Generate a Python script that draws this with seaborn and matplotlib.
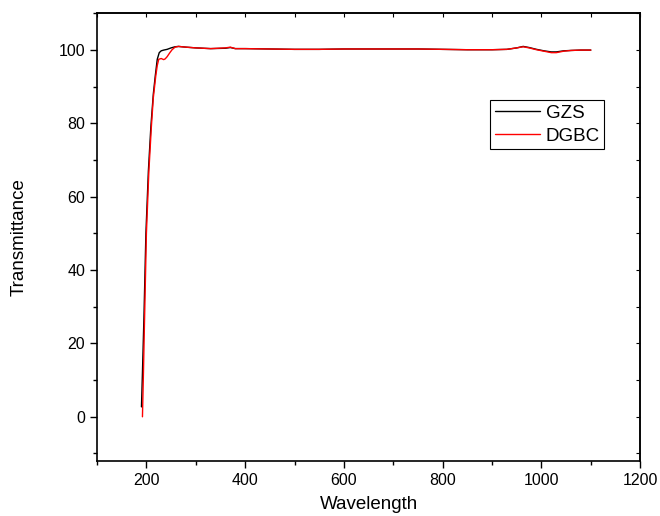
import matplotlib
matplotlib.use('Agg')
import pandas as pd
import matplotlib.pyplot as plt
import seaborn as sns
from matplotlib.ticker import MultipleLocator

# Values
gzs_wavelength = [190, 192, 195, 199, 204, 209, 214, 218, 222, 226, 230, 235, 242, 250, 258,
                  265, 280, 300, 330, 360, 370, 380, 400, 450, 500, 550, 600, 650, 700, 750,
                  800, 850, 900, 930, 950, 963, 975, 990, 1005, 1020, 1030, 1045, 1060, 1080, 1100]
gzs_transmittance = [2.7, 12, 27, 50, 67, 79, 88, 93, 97.5, 99.3, 99.8, 100, 100.2, 100.6, 100.9,
                     101, 100.8, 100.6, 100.4, 100.5, 100.7, 100.4, 100.4, 100.3, 100.2, 100.2, 100.3,
                     100.3, 100.3, 100.3, 100.2, 100.1, 100.1, 100.2, 100.6, 101, 100.7, 100.2, 99.8,
                     99.5, 99.5, 99.8, 99.9, 100, 100]

dgbc_wavelength = [192, 194, 196, 200, 205, 210, 214, 219, 222, 225, 230, 235, 238, 242, 247,
                   252, 258, 265, 280, 300, 330, 360, 370, 380, 400, 450, 500, 550, 600, 650,
                   700, 750, 800, 850, 900, 930, 950, 963, 975, 990, 1005, 1020, 1030, 1045,
                   1060, 1080, 1100]
dgbc_transmittance = [0, 12, 25, 50, 67, 79, 87, 93, 95.8, 97.5, 97.7, 97.4, 97.6, 98.2, 99.2,
                      100.1, 100.8, 101, 100.8, 100.6, 100.4, 100.6, 100.8, 100.4, 100.4, 100.3,
                      100.2, 100.2, 100.3, 100.3, 100.3, 100.3, 100.2, 100.1, 100.1, 100.2, 100.6,
                      100.9, 100.6, 100.1, 99.7, 99.3, 99.3, 99.7, 99.9, 100, 100]

series_names = ['GZS', 'DGBC']
series_colors = ['black', 'red']

df = pd.concat([
    pd.DataFrame({'Wavelength': gzs_wavelength, 'Transmittance': gzs_transmittance, 'sample': 'GZS'}),
    pd.DataFrame({'Wavelength': dgbc_wavelength, 'Transmittance': dgbc_transmittance, 'sample': 'DGBC'}),
])

sns.set_theme(style="ticks")
plt.rcParams['font.family'] = ['Liberation Sans', 'DejaVu Sans']
plt.rcParams['text.color'] = 'black'
plt.rcParams['axes.labelcolor'] = 'black'
plt.rcParams['xtick.color'] = 'black'
plt.rcParams['ytick.color'] = 'black'

fig = plt.figure(figsize=(6.6, 5.16), dpi=100)
ax = fig.add_axes([0.147, 0.107, 0.823, 0.867])

sns.lineplot(data=df, x='Wavelength', y='Transmittance', hue='sample',
             hue_order=series_names, palette=series_colors, linewidth=1.0,
             sort=False, estimator=None, ax=ax)

ax.set_xlim(100, 1200)
ax.set_ylim(-12, 110)
ax.xaxis.set_major_locator(MultipleLocator(200))
ax.xaxis.set_minor_locator(MultipleLocator(100))
ax.yaxis.set_major_locator(MultipleLocator(20))
ax.yaxis.set_minor_locator(MultipleLocator(10))
ax.tick_params(which='major', direction='out', length=5, width=1, labelsize=11.5)
ax.tick_params(which='minor', direction='out', length=3, width=1)

# inward ticks on top and right like the original
top = ax.secondary_xaxis('top')
top.xaxis.set_major_locator(MultipleLocator(200))
top.xaxis.set_minor_locator(MultipleLocator(100))
top.tick_params(which='both', direction='in', length=3, width=0.8, labeltop=False)
right = ax.secondary_yaxis('right')
right.yaxis.set_major_locator(MultipleLocator(20))
right.yaxis.set_minor_locator(MultipleLocator(10))
right.tick_params(which='both', direction='in', length=3, width=0.8, labelright=False)

for s in ax.spines.values():
    s.set_linewidth(1.2)
    s.set_color('black')

ax.set_xlabel('Wavelength', fontsize=13.5, labelpad=6)
ax.set_ylabel('Transmittance', fontsize=13.5, labelpad=22)

leg = ax.legend(loc='upper left', bbox_to_anchor=(0.724, 0.806), fontsize=13.5,
                frameon=True, fancybox=False, framealpha=1, edgecolor='black',
                handlelength=2.4, handletextpad=0.3, labelspacing=0.3,
                borderpad=0.25, borderaxespad=0)
leg.get_frame().set_linewidth(0.8)

fig.savefig('out.png', dpi=100)
